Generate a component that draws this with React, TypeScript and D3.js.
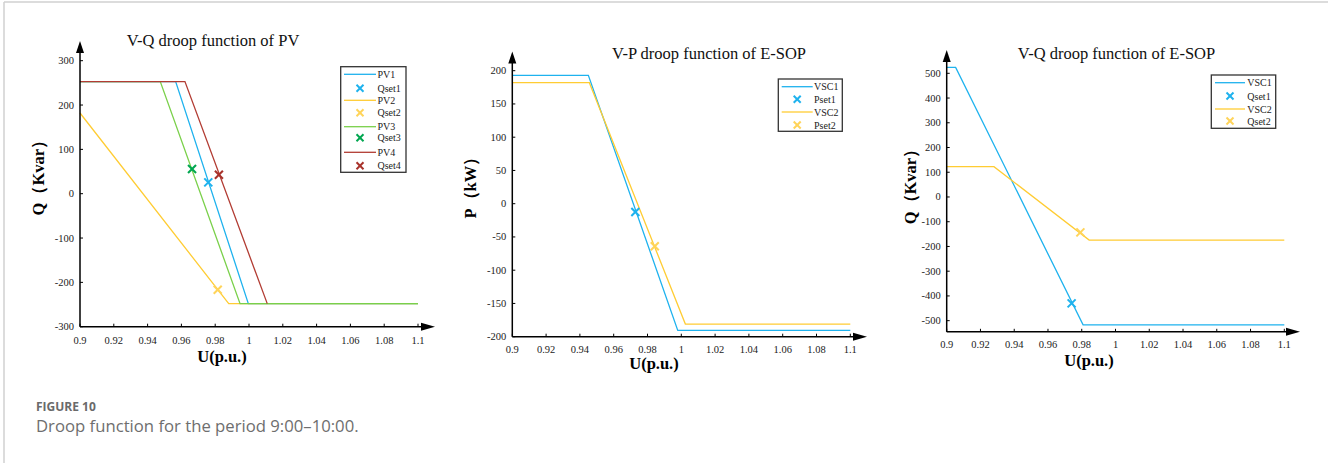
import React from "react";
import * as d3 from "d3";

// ---------- data ----------
const uTicks = [0.9, 0.92, 0.94, 0.96, 0.98, 1, 1.02, 1.04, 1.06, 1.08, 1.1];
const uTickLabels = ["0.9", "0.92", "0.94", "0.96", "0.98", "1", "1.02", "1.04", "1.06", "1.08", "1.1"];

// Panel 1: V-Q droop of PV
const pvQTicks = [-300, -200, -100, 0, 100, 200, 300];
const pv1U = [0.9, 0.9566, 0.9996, 1.1];
const pv1Q = [253, 253, -248, -248];
const pv2U = [0.9, 0.988, 1.1];
const pv2Q = [182, -248, -248];
const pv3U = [0.9, 0.9475, 0.9947, 1.1];
const pv3Q = [253, 253, -248, -248];
const pv4U = [0.9, 0.9621, 1.0108];
const pv4Q = [253, 253, -248];
const qsetPVU = [0.9759, 0.9815, 0.9663, 0.9822];
const qsetPVQ = [25.5, -216.7, 55.7, 42.9];

// Panel 2: V-P droop of E-SOP
const sopPTicks = [-200, -150, -100, -50, 0, 50, 100, 150, 200];
const vscP1U = [0.9, 0.945, 0.9979, 1.1];
const vscP1P = [193, 193, -190.5, -190.5];
const vscP2U = [0.9, 0.9456, 1.0024, 1.1];
const vscP2P = [182, 182, -181, -181];
const psetU = [0.9728, 0.9843];
const psetP = [-12.6, -64];

// Panel 3: V-Q droop of E-SOP
const sopQTicks = [-500, -400, -300, -200, -100, 0, 100, 200, 300, 400, 500];
const vscQ1U = [0.9, 0.9053, 0.9808, 1.1];
const vscQ1Q = [524, 524, -517, -517];
const vscQ2U = [0.9, 0.928, 0.9844, 1.1];
const vscQ2Q = [122.5, 122.5, -174, -174];
const qsetSopU = [0.974, 0.9792];
const qsetSopQ = [-430, -143];

// ---------- styles ----------
const BLUE = "#1eb2ee";
const YELLOW = "#ffcc33";
const YELLOW_M = "#ffd45a";
const GREEN = "#7ad04a";
const GREEN_M = "#00a650";
const RED = "#b23c33";
const RED_M = "#a8322b";
const SERIF = "'Liberation Serif', 'Times New Roman', serif";

type Series = { name: string; u: number[]; v: number[]; color: string; kind: "line" };
type Marks = { name: string; u: number[]; v: number[]; color: string; kind: "mark" };

type PanelProps = {
  title: string;
  titleX: number;
  titleY: number;
  yLabel: string;
  yLabelX: number;
  xLabelY: number;
  xLabelX: number;
  x0: number;
  x1: number;
  yDomain: [number, number];
  yRange: [number, number];
  yTicks: number[];
  arrowTopY: number;
  arrowRightX: number;
  lines: Series[];
  marks: Marks[];
  legend: (Series | Marks)[];
  legendBox: { x: number; y: number; w: number; h: number; rowY: number[]; sx0: number; sx1: number; tx: number };
  xLabelOffset: number;
};

const Cross = ({ x, y, color, s = 4 }: { x: number; y: number; color: string; s?: number }) => (
  <g stroke={color} strokeWidth={2} strokeLinecap="butt">
    <line x1={x - s} y1={y - s} x2={x + s} y2={y + s} />
    <line x1={x - s} y1={y + s} x2={x + s} y2={y - s} />
  </g>
);

const Panel = (p: PanelProps) => {
  const x = d3.scaleLinear().domain([0.9, 1.1]).range([p.x0, p.x1]);
  const y = d3.scaleLinear().domain(p.yDomain).range(p.yRange);
  const axisY = p.yRange[0];
  const line = d3
    .line<[number, number]>()
    .x((d) => x(d[0]))
    .y((d) => y(d[1]));
  return (
    <g>
      <text x={p.titleX} y={p.titleY} textAnchor="middle" fontFamily={SERIF} fontSize={16.5} fill="#111">
        {p.title}
      </text>
      {p.lines.map((s) => (
        <path
          key={s.name}
          d={line(s.u.map((u, i) => [u, s.v[i]] as [number, number])) || ""}
          fill="none"
          stroke={s.color}
          strokeWidth={1.3}
        />
      ))}
      {p.marks.map((m) =>
        m.u.map((u, i) => <Cross key={m.name + i} x={x(u)} y={y(m.v[i])} color={m.color} />)
      )}
      {/* axes */}
      <line x1={p.x0} y1={axisY} x2={p.x0} y2={p.arrowTopY + 10} stroke="#000" strokeWidth={1.5} />
      <path d={`M${p.x0},${p.arrowTopY} L${p.x0 - 4},${p.arrowTopY + 12} L${p.x0 + 4},${p.arrowTopY + 12} Z`} fill="#000" />
      <line x1={p.x0} y1={axisY} x2={p.arrowRightX - 10} y2={axisY} stroke="#000" strokeWidth={1.5} />
      <path
        d={`M${p.arrowRightX},${axisY} L${p.arrowRightX - 14},${axisY - 4} L${p.arrowRightX - 14},${axisY + 4} Z`}
        fill="#000"
      />
      {uTicks.map((u, i) => (
        <g key={"xt" + i}>
          <line x1={x(u)} x2={x(u)} y1={axisY} y2={axisY - 3} stroke="#000" strokeWidth={1} />
          <text x={x(u)} y={axisY + p.xLabelOffset} textAnchor="middle" fontFamily={SERIF} fontSize={10.5} fill="#222">
            {uTickLabels[i]}
          </text>
        </g>
      ))}
      {p.yTicks.map((t) => (
        <g key={"yt" + t}>
          <line x1={p.x0} x2={p.x0 + 3} y1={y(t)} y2={y(t)} stroke="#000" strokeWidth={1} />
          <text x={p.x0 - 6} y={y(t) + 3.5} textAnchor="end" fontFamily={SERIF} fontSize={10.5} fill="#222">
            {t}
          </text>
        </g>
      ))}
      <text
        x={p.xLabelX}
        y={p.xLabelY}
        textAnchor="middle"
        fontFamily={SERIF}
        fontWeight="bold"
        fontSize={16.5}
        fill="#000"
      >
        U(p.u.)
      </text>
      <text
        transform={`translate(${p.yLabelX},${(p.yRange[0] + p.yRange[1]) / 2 - 20}) rotate(-90)`}
        textAnchor="middle"
        dominantBaseline="central"
        fontFamily={SERIF}
        fontWeight="bold"
        fontSize={16.5}
        fill="#000"
      >
        {p.yLabel}
      </text>
      {/* legend */}
      <rect
        x={p.legendBox.x}
        y={p.legendBox.y}
        width={p.legendBox.w}
        height={p.legendBox.h}
        fill="#fff"
        stroke="#333"
        strokeWidth={1.3}
      />
      {p.legend.map((e, i) => {
        const ry = p.legendBox.rowY[i];
        return (
          <g key={"lg" + i}>
            {e.kind === "line" ? (
              <line x1={p.legendBox.sx0} x2={p.legendBox.sx1} y1={ry} y2={ry} stroke={e.color} strokeWidth={1.3} />
            ) : (
              <Cross x={(p.legendBox.sx0 + p.legendBox.sx1) / 2} y={ry} color={e.color} s={3.5} />
            )}
            <text x={p.legendBox.tx} y={ry + 3.5} fontFamily={SERIF} fontSize={10} fill="#222">
              {e.name}
            </text>
          </g>
        );
      })}
    </g>
  );
};

export default function App() {
  const pvLines: Series[] = [
    { name: "PV1", u: pv1U, v: pv1Q, color: BLUE, kind: "line" },
    { name: "PV2", u: pv2U, v: pv2Q, color: YELLOW, kind: "line" },
    { name: "PV3", u: pv3U, v: pv3Q, color: GREEN, kind: "line" },
    { name: "PV4", u: pv4U, v: pv4Q, color: RED, kind: "line" },
  ];
  const pvMarkColors = [BLUE, YELLOW_M, GREEN_M, RED_M];
  const pvMarks: Marks[] = qsetPVU.map((u, i) => ({
    name: "Qset" + (i + 1),
    u: [u],
    v: [qsetPVQ[i]],
    color: pvMarkColors[i],
    kind: "mark",
  }));
  const pvLegend = [pvLines[0], pvMarks[0], pvLines[1], pvMarks[1], pvLines[2], pvMarks[2], pvLines[3], pvMarks[3]];

  const pLines: Series[] = [
    { name: "VSC1", u: vscP1U, v: vscP1P, color: BLUE, kind: "line" },
    { name: "VSC2", u: vscP2U, v: vscP2P, color: YELLOW, kind: "line" },
  ];
  const pMarks: Marks[] = [
    { name: "Pset1", u: [psetU[0]], v: [psetP[0]], color: BLUE, kind: "mark" },
    { name: "Pset2", u: [psetU[1]], v: [psetP[1]], color: YELLOW_M, kind: "mark" },
  ];

  const qLines: Series[] = [
    { name: "VSC1", u: vscQ1U, v: vscQ1Q, color: BLUE, kind: "line" },
    { name: "VSC2", u: vscQ2U, v: vscQ2Q, color: YELLOW, kind: "line" },
  ];
  const qMarks: Marks[] = [
    { name: "Qset1", u: [qsetSopU[0]], v: [qsetSopQ[0]], color: BLUE, kind: "mark" },
    { name: "Qset2", u: [qsetSopU[1]], v: [qsetSopQ[1]], color: YELLOW_M, kind: "mark" },
  ];

  return (
    <svg
      width={1328}
      height={463}
      style={{ position: "absolute", left: 0, top: 0, background: "#fff" }}
    >
      <rect x={0} y={0} width={1328} height={463} fill="#fff" />
      <line x1={4} y1={2} x2={1328} y2={2} stroke="#d0d0d0" strokeWidth={1.5} />
      <line x1={4} y1={2} x2={4} y2={463} stroke="#d0d0d0" strokeWidth={1.5} />

      <Panel
        title="V-Q droop function of PV"
        titleX={213}
        titleY={46}
        yLabel="Q（Kvar）"
        yLabelX={38}
        xLabelX={222}
        xLabelY={362}
        x0={80}
        x1={418}
        yDomain={[-300, 300]}
        yRange={[326.7, 60.7]}
        yTicks={pvQTicks}
        arrowTopY={41}
        arrowRightX={435}
        lines={pvLines}
        marks={pvMarks}
        legend={pvLegend}
        legendBox={{
          x: 340.7,
          y: 66.7,
          w: 65.3,
          h: 105.6,
          rowY: [74.3, 88.3, 100.3, 112.7, 126.7, 137.7, 152.3, 165.7],
          sx0: 344,
          sx1: 376,
          tx: 377.5,
        }}
        xLabelOffset={17}
      />
      <Panel
        title="V-P droop function of E-SOP"
        titleX={709}
        titleY={58.5}
        yLabel="P（kW）"
        yLabelX={470}
        xLabelX={654}
        xLabelY={369}
        x0={512.3}
        x1={850.3}
        yDomain={[-200, 200]}
        yRange={[336.7, 70.7]}
        yTicks={sopPTicks}
        arrowTopY={51.5}
        arrowRightX={867}
        lines={pLines}
        marks={pMarks}
        legend={[pLines[0], pMarks[0], pLines[1], pMarks[1]]}
        legendBox={{
          x: 778.3,
          y: 79,
          w: 64,
          h: 52.3,
          rowY: [86.7, 99.3, 112, 125],
          sx0: 781.7,
          sx1: 812.7,
          tx: 814,
        }}
        xLabelOffset={16.5}
      />
      <Panel
        title="V-Q droop function of E-SOP"
        titleX={1116.5}
        titleY={58.5}
        yLabel="Q（Kvar）"
        yLabelX={910}
        xLabelX={1089}
        xLabelY={366}
        x0={946.7}
        x1={1284.3}
        yDomain={[-545, 500]}
        yRange={[331.8, 73.3]}
        yTicks={sopQTicks}
        arrowTopY={50}
        arrowRightX={1300}
        lines={qLines}
        marks={qMarks}
        legend={[qLines[0], qMarks[0], qLines[1], qMarks[1]]}
        legendBox={{
          x: 1211.3,
          y: 75,
          w: 64.4,
          h: 53.3,
          rowY: [82.7, 96, 109, 121],
          sx0: 1215,
          sx1: 1245,
          tx: 1247.3,
        }}
        xLabelOffset={16}
      />

      <text x={36} y={410.5} fontFamily="'Open Sans', sans-serif" fontWeight="bold" fontSize={12} fill="#6a6a6a">
        FIGURE 10
      </text>
      <text x={36} y={432} fontFamily="'Open Sans', sans-serif" fontSize={16.7} fill="#6e6e6e">
        Droop function for the period 9:00–10:00.
      </text>
    </svg>
  );
}
